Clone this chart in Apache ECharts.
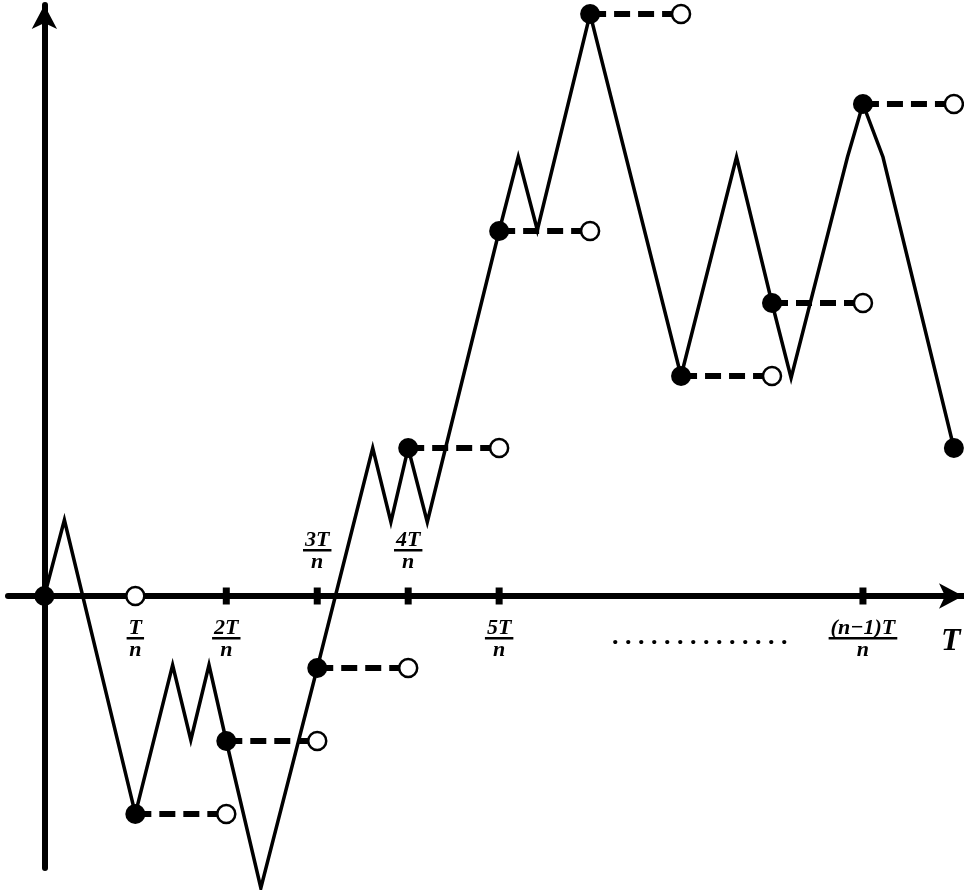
<!DOCTYPE html>
<html>
<head>
<meta charset="utf-8">
<script src="https://cdn.jsdelivr.net/npm/echarts@6/dist/echarts.min.js"></script>
<style>
  html, body { margin: 0; padding: 0; background: #fff; }
  #chart { width: 964px; height: 890px; }
</style>
</head>
<body>
<div id="chart"></div>
<script>
// ---- data (x in units of T/n, y in arbitrary units) ----
const pathX = [0, 0.22, 1, 1.41, 1.61, 1.81, 2, 2.38, 3, 3.61, 3.81, 4, 4.21, 5, 5.21, 5.42, 6, 7, 7.61, 8, 8.21, 8.83, 9, 9.22, 10];
const pathY = [0, 7.6, -21.8, -6.9, -14.4, -6.9, -14.5, -29.2, -7.2, 14.8, 7.4, 14.8, 7.4, 36.5, 43.9, 36.6, 58.2, 22.0, 43.9, 29.3, 21.8, 43.9, 49.2, 43.9, 14.8];
const stepX = [0, 1, 2, 3, 4, 5, 6, 7, 8, 9, 10];
const stepY = [0, -21.8, -14.5, -7.2, 14.8, 36.5, 58.2, 22.0, 29.3, 49.2, 14.8];
const tickValues = [1, 2, 3, 4, 5, 9];
const tickNumerators = ['T', '2T', '3T', '4T', '5T', '(n\u22121)T'];
const tickDenominator = 'n';
const labelsAbove = [3, 4];
const axisName = 'T';
const ellipsis = '. . . . . . . . . . . . . .';

const FONT = 'italic bold 22px "Liberation Serif"';
const measureCtx = document.createElement('canvas').getContext('2d');
function textWidth(t) { measureCtx.font = FONT; return measureCtx.measureText(t).width; }

const chart = echarts.init(document.getElementById('chart'), null, { renderer: 'canvas' });

const axisLineStyle = { color: '#000', width: 6 };

const option = {
  animation: false,
  backgroundColor: '#fff',
  grid: { left: 8, right: 1, top: 5, bottom: 22, containLabel: false },
  xAxis: {
    type: 'value', min: -0.4, max: 10.1,
    axisLine: { show: true, onZero: true, lineStyle: axisLineStyle, symbol: ['none', 'arrow'], symbolSize: [19, 24] },
    axisTick: { show: false }, axisLabel: { show: false }, splitLine: { show: false },
    name: axisName, nameLocation: 'end', nameGap: -22,
    nameTextStyle: { fontFamily: 'Liberation Serif', fontStyle: 'italic', fontWeight: 'bold', fontSize: 32, color: '#000', verticalAlign: 'top', padding: [30, 0, 0, 0] }
  },
  yAxis: {
    type: 'value', min: -27.2, max: 59.1,
    axisLine: { show: true, onZero: true, lineStyle: axisLineStyle, symbol: ['none', 'arrow'], symbolSize: [19, 24] },
    axisTick: { show: false }, axisLabel: { show: false }, splitLine: { show: false }
  },
  graphic: [
    { type: 'text', left: 612, top: 624, style: { text: ellipsis, font: 'bold 26px "Liberation Serif"', fill: '#000' } }
  ],
  series: [
    {
      type: 'line', data: pathX.map((x, i) => [x, pathY[i]]),
      symbol: 'none', clip: false, z: 2,
      lineStyle: { color: '#000', width: 3.5, join: 'miter', opacity: 1 }
    },
    {
      type: 'custom', z: 3, clip: false,
      data: stepX.slice(0, -1).map((x, i) => [x, stepY[i], stepX[i + 1]]),
      renderItem(params, api) {
        const a = api.coord([api.value(0), api.value(1)]);
        const b = api.coord([api.value(2), api.value(1)]);
        return { type: 'line', shape: { x1: a[0], y1: a[1], x2: b[0], y2: b[1] },
          style: { stroke: '#000', lineWidth: 6, lineDash: [16, 8] } };
      }
    },
    {
      type: 'scatter', z: 4, symbol: 'rect', symbolSize: [7, 17],
      data: tickValues.map(v => [v, 0]),
      itemStyle: { color: '#000', opacity: 1 }
    },
    {
      type: 'scatter', z: 5, symbol: 'circle', symbolSize: 18,
      data: stepX.slice(1).map((x, i) => [x, stepY[i]]),
      itemStyle: { color: '#fff', borderColor: '#000', borderWidth: 2.5, opacity: 1 }
    },
    {
      type: 'scatter', z: 6, symbol: 'circle', symbolSize: 20,
      data: stepX.map((x, i) => [x, stepY[i]]),
      itemStyle: { color: '#000', opacity: 1 }
    },
    {
      type: 'custom', z: 7, clip: false,
      data: tickValues.map(v => [v, 0]),
      renderItem(params, api) {
        const v = api.value(0);
        const p = api.coord([v, 0]);
        const num = tickNumerators[params.dataIndex];
        const above = labelsAbove.includes(v);
        const w = Math.max(textWidth(num), textWidth(tickDenominator)) + 4;
        const barY = above ? p[1] - 46 : p[1] + 42;
        return {
          type: 'group',
          children: [
            { type: 'text', style: { text: num, x: p[0], y: barY + 1, align: 'center', verticalAlign: 'bottom', font: FONT, fill: '#000' } },
            { type: 'rect', shape: { x: p[0] - w / 2, y: barY - 1, width: w, height: 2.5 }, style: { fill: '#000' } },
            { type: 'text', style: { text: tickDenominator, x: p[0], y: barY + 1, align: 'center', verticalAlign: 'top', font: FONT, fill: '#000' } }
          ]
        };
      }
    }
  ]
};
chart.setOption(option);
</script>
</body>
</html>
